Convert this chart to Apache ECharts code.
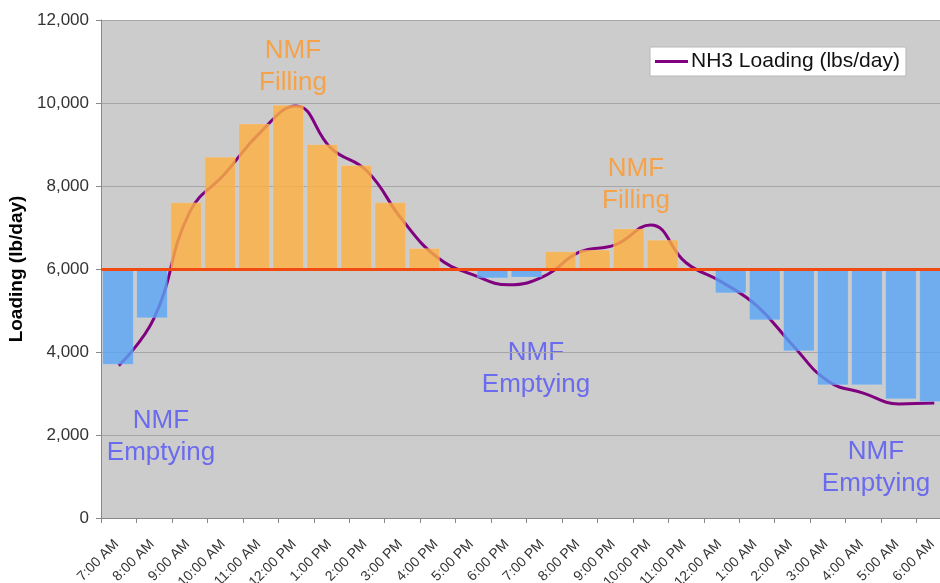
<!DOCTYPE html>
<html>
<head>
<meta charset="utf-8">
<script src="https://cdn.jsdelivr.net/npm/echarts@6/dist/echarts.min.js"></script>
<style>
html,body{margin:0;padding:0;background:#fff;}
#chart{width:940px;height:583px;}
</style>
</head>
<body>
<div id="chart"></div>
<script>
// ---- data ----
const hours = ['7:00 AM','8:00 AM','9:00 AM','10:00 AM','11:00 AM','12:00 PM','1:00 PM','2:00 PM','3:00 PM','4:00 PM','5:00 PM','6:00 PM','7:00 PM','8:00 PM','9:00 PM','10:00 PM','11:00 PM','12:00 AM','1:00 AM','2:00 AM','3:00 AM','4:00 AM','5:00 AM','6:00 AM'];
const nh3Loading = [3670, 4820, 7370, 8300, 9300, 9930, 8900, 8360, 7180, 6270, 5860, 5620, 5830, 6410, 6580, 7060, 6150, 5690, 5110, 4170, 3300, 3010, 2750, 2770];
// NMF blocks (drawn as 25 equal slots across the same span)
const barSlots = ['1','2','3','4','5','6','7','8','9','10','11','12','13','14','15','16','17','18','19','20','21','22','23','24','25'];
const nmfBlocks = [3700, 4820, 7600, 8700, 9500, 9950, 9000, 8500, 7600, 6500, 6000, 5780, 5800, 6420, 6460, 6970, 6700, 6000, 5420, 4770, 4025, 3205, 3205, 2870, 2800];
const baseline = 6000;
const yMin = 0, yMax = 12000, yInterval = 2000;

// ---- derived ----
const fillColor = 'rgba(252,176,66,0.82)';
const emptyColor = 'rgba(88,165,248,0.80)';
const baseData = nmfBlocks.map(v => Math.min(v, baseline));
const deltaData = nmfBlocks.map(v => ({
  value: Math.abs(v - baseline),
  itemStyle: { color: v >= baseline ? fillColor : emptyColor }
}));

const FONT = 'Liberation Sans, Arial, sans-serif';
const chart = echarts.init(document.getElementById('chart'), null, {renderer: 'canvas'});

chart.setOption({
  animation: false,
  backgroundColor: '#ffffff',
  textStyle: { fontFamily: FONT },
  grid: {
    left: 101, right: -12, top: 20, height: 498,
    containLabel: false, outerBoundsMode: 'none',
    show: true, backgroundColor: '#CCCCCC', borderWidth: 0
  },
  legend: {
    data: [{ name: 'NH3 Loading (lbs/day)', icon: 'rect' }],
    left: 650, top: 47,
    itemWidth: 33, itemHeight: 3, itemGap: 4,
    backgroundColor: '#ffffff', borderColor: '#b8b8b8', borderWidth: 1,
    padding: [4, 6, 4, 5], borderRadius: 0,
    textStyle: { fontSize: 21, color: '#111', fontFamily: FONT, padding: [0, 0, 0, -2] }
  },
  xAxis: [
    {
      type: 'category', data: hours, boundaryGap: true,
      axisLine: { lineStyle: { color: '#888', width: 1 } },
      axisTick: { show: true, length: 5, lineStyle: { color: '#888' } },
      axisLabel: { interval: 0, rotate: 45, fontSize: 14, color: '#333', margin: 22, padding: [0, 3, 0, 0], fontFamily: FONT },
      splitLine: { show: false }
    },
    {
      type: 'category', data: barSlots, boundaryGap: true, show: false,
      axisLine: { show: false }, axisTick: { show: false }, axisLabel: { show: false }
    }
  ],
  yAxis: {
    type: 'value', min: yMin, max: yMax, interval: yInterval,
    name: 'Loading (lb/day)', nameLocation: 'middle', nameGap: 70, nameRotate: 90,
    nameTextStyle: { fontSize: 19, fontWeight: 'bold', color: '#000', fontFamily: FONT },
    axisLine: { show: true, lineStyle: { color: '#888' } },
    axisTick: { show: true, length: 5, inside: false, lineStyle: { color: '#888' } },
    axisLabel: {
      fontSize: 17, color: '#333', margin: 12, fontFamily: FONT,
      formatter: v => v.toLocaleString('en-US')
    },
    splitLine: { show: true, lineStyle: { color: '#A6A6A6', width: 1 } }
  },
  series: [
    {
      name: 'NH3 Loading (lbs/day)', type: 'line', xAxisIndex: 0,
      data: nh3Loading, smooth: 0.45, showSymbol: false, symbol: 'none',
      lineStyle: { color: '#800080', width: 3 }, itemStyle: { color: '#800080' },
      z: 2
    },
    {
      name: 'base', type: 'bar', xAxisIndex: 1, stack: 'nmf',
      data: baseData, barWidth: 31, silent: true,
      itemStyle: { color: 'rgba(0,0,0,0)' }, z: 3
    },
    {
      name: 'nmf', type: 'bar', xAxisIndex: 1, stack: 'nmf',
      data: deltaData, barWidth: 31,
      itemStyle: { borderColor: 'rgba(255,255,255,0.25)', borderWidth: 0.5 },
      z: 3,
      markLine: {
        silent: true, symbol: ['none', 'none'],
        label: { show: false },
        lineStyle: { color: '#F04A10', width: 3, type: 'solid' },
        data: [{ yAxis: baseline }]
      }
    }
  ],
  graphic: [
    { type: 'text', left: 293 - 50, top: 35, style: { text: 'NMF\nFilling', fill: '#F5A248', font: '26px ' + FONT, textAlign: 'center', lineHeight: 32, width: 100 } },
    { type: 'text', left: 636 - 50, top: 153, style: { text: 'NMF\nFilling', fill: '#F5A248', font: '26px ' + FONT, textAlign: 'center', lineHeight: 32, width: 100 } },
    { type: 'text', left: 161 - 60, top: 405, style: { text: 'NMF\nEmptying', fill: '#6B6BEE', font: '26px ' + FONT, textAlign: 'center', lineHeight: 32, width: 120 } },
    { type: 'text', left: 536 - 60, top: 337, style: { text: 'NMF\nEmptying', fill: '#6B6BEE', font: '26px ' + FONT, textAlign: 'center', lineHeight: 32, width: 120 } },
    { type: 'text', left: 876 - 60, top: 436, style: { text: 'NMF\nEmptying', fill: '#6B6BEE', font: '26px ' + FONT, textAlign: 'center', lineHeight: 32, width: 120 } }
  ]
});
</script>
</body>
</html>
